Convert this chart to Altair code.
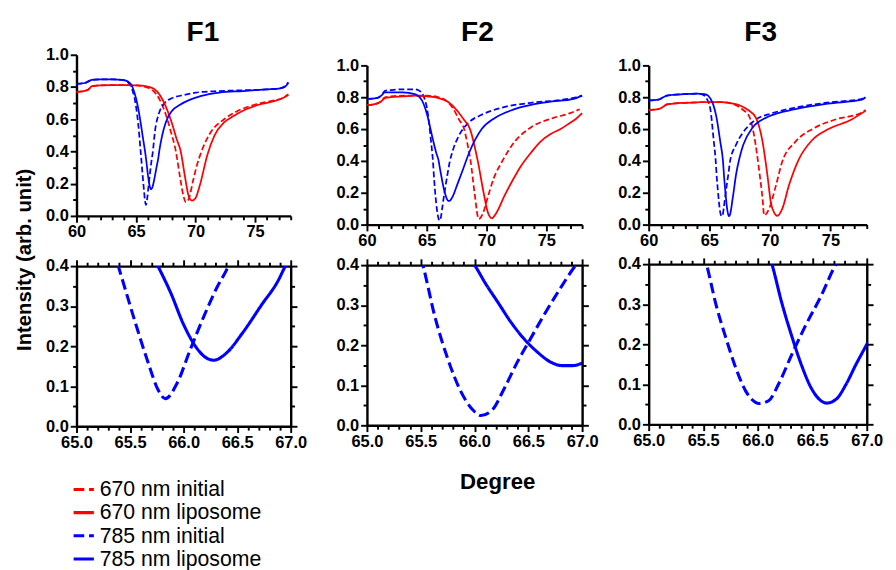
import altair as alt
import pandas as pd

FONT = "Liberation Sans"
SERIES = ["670 nm initial", "670 nm liposome", "785 nm initial", "785 nm liposome"]
COLORS = ["#ff0000", "#ff0000", "#0000ff", "#0000ff"]

# ---------------- F1 ----------------
f1_670_init_x = [60, 60.6, 61.0, 61.3, 62, 63, 64, 65, 65.8, 66.4, 67.0, 67.5, 67.9, 68.35, 68.7, 69.0, 69.2, 69.45, 69.8, 70.1, 70.5, 71.2, 72.4, 73.5, 74.5, 75.5, 76.5, 77.3, 77.8]
f1_670_init_y = [0.77, 0.775, 0.785, 0.805, 0.81, 0.812, 0.812, 0.81, 0.80, 0.78, 0.72, 0.63, 0.53, 0.40, 0.24, 0.12, 0.085, 0.11, 0.22, 0.31, 0.40, 0.51, 0.60, 0.65, 0.68, 0.70, 0.715, 0.73, 0.755]
f1_670_lipo_x = [60, 60.6, 61.0, 61.3, 62, 63, 64, 65, 65.8, 66.5, 67.0, 67.5, 68.0, 68.4, 68.76, 69.1, 69.4, 69.7, 70.0, 70.4, 71.0, 71.6, 72.4, 73.2, 74.2, 75.3, 76.5, 77.3, 77.8]
f1_670_lipo_y = [0.77, 0.775, 0.785, 0.805, 0.81, 0.812, 0.812, 0.81, 0.805, 0.79, 0.75, 0.68, 0.58, 0.48, 0.40, 0.25, 0.13, 0.095, 0.11, 0.20, 0.38, 0.50, 0.58, 0.62, 0.66, 0.69, 0.71, 0.73, 0.75]
f1_785_init_x = [60, 60.7, 61.0, 61.3, 62, 63, 63.8, 64.3, 64.7, 65.0, 65.2, 65.39, 65.55, 65.67, 65.76, 65.83, 65.94, 66.06, 66.19, 66.31, 66.40, 66.6, 66.9, 67.4, 68.0, 69.0, 70.0, 72.0, 74.0, 76.0, 77.0, 77.5, 77.8]
f1_785_init_y = [0.82, 0.825, 0.835, 0.845, 0.848, 0.848, 0.845, 0.83, 0.78, 0.68, 0.56, 0.40, 0.258, 0.158, 0.092, 0.069, 0.108, 0.19, 0.275, 0.346, 0.39, 0.53, 0.63, 0.70, 0.73, 0.75, 0.765, 0.775, 0.78, 0.785, 0.79, 0.805, 0.83]
f1_785_lipo_x = [60, 60.7, 61.0, 61.3, 62, 63, 63.8, 64.3, 64.7, 65.0, 65.3, 65.55, 65.76, 65.88, 66.0, 66.1, 66.19, 66.28, 66.40, 66.55, 66.73, 66.88, 66.95, 67.2, 67.5, 68.0, 68.7, 69.5, 70.5, 72.0, 74.0, 76.0, 77.0, 77.5, 77.8]
f1_785_lipo_y = [0.82, 0.825, 0.835, 0.845, 0.848, 0.848, 0.845, 0.835, 0.80, 0.73, 0.62, 0.50, 0.40, 0.333, 0.254, 0.204, 0.175, 0.165, 0.183, 0.233, 0.304, 0.3625, 0.40, 0.50, 0.58, 0.65, 0.69, 0.72, 0.745, 0.765, 0.775, 0.785, 0.79, 0.80, 0.825]

# ---------------- F2 ----------------
f2_670_init_x = [60, 60.8, 61.2, 61.5, 62, 63, 64, 65, 66, 66.6, 67.2, 67.7, 68.13, 68.4, 68.67, 69.0, 69.35, 69.7, 70.1, 70.6, 71.26, 72.35, 73.7, 75.6, 77.0, 77.8]
f2_670_init_y = [0.75, 0.76, 0.775, 0.80, 0.805, 0.81, 0.81, 0.81, 0.80, 0.78, 0.73, 0.66, 0.60, 0.51, 0.40, 0.20, 0.035, 0.07, 0.17, 0.29, 0.39, 0.52, 0.61, 0.67, 0.70, 0.725]
f2_670_lipo_x = [60, 60.8, 61.2, 61.5, 62, 63, 64, 65, 66, 66.8, 67.5, 68.1, 68.62, 69.27, 69.76, 70.1, 70.45, 70.8, 71.5, 72.2, 72.9, 73.7, 74.5, 75.4, 76.2, 77.0, 77.5, 78.0]
f2_670_lipo_y = [0.75, 0.76, 0.775, 0.795, 0.80, 0.805, 0.81, 0.805, 0.795, 0.77, 0.72, 0.66, 0.60, 0.40, 0.20, 0.08, 0.04, 0.07, 0.18, 0.28, 0.37, 0.45, 0.52, 0.57, 0.60, 0.64, 0.665, 0.70]
f2_785_init_x = [60, 60.8, 61.2, 61.5, 62, 63, 64, 64.4, 64.72, 65.13, 65.35, 65.52, 65.63, 65.75, 65.87, 65.99, 66.06, 66.16, 66.28, 66.40, 66.52, 66.64, 66.79, 66.93, 67.2, 67.7, 68.5, 69.6, 71.3, 73.7, 76.4, 77.5, 78.0]
f2_785_init_y = [0.79, 0.795, 0.81, 0.84, 0.845, 0.85, 0.85, 0.84, 0.81, 0.68, 0.53, 0.40, 0.273, 0.167, 0.086, 0.037, 0.0245, 0.037, 0.094, 0.159, 0.216, 0.273, 0.339, 0.396, 0.47, 0.56, 0.64, 0.69, 0.735, 0.765, 0.785, 0.80, 0.81]
f2_785_lipo_x = [60, 60.8, 61.2, 61.5, 62, 63, 64, 64.6, 65.0, 65.5, 65.8, 66.0, 66.10, 66.22, 66.34, 66.46, 66.58, 66.70, 66.82, 66.91, 67.0, 67.2, 67.5, 68.0, 68.54, 69.6, 70.7, 72.35, 75.1, 77.3, 78.0]
f2_785_lipo_y = [0.79, 0.795, 0.81, 0.83, 0.83, 0.83, 0.82, 0.78, 0.70, 0.54, 0.45, 0.40, 0.355, 0.306, 0.257, 0.216, 0.184, 0.159, 0.149, 0.149, 0.155, 0.18, 0.24, 0.34, 0.45, 0.60, 0.67, 0.725, 0.77, 0.79, 0.81]

# ---------------- F3 ----------------
f3_670_init_x = [60, 60.8, 61.2, 61.5, 62, 63, 64, 65, 66, 66.6, 67.2, 67.8, 68.3, 68.7, 69.1, 69.4, 69.53, 69.94, 70.5, 71.0, 72.1, 73.5, 75.4, 77.6, 77.9]
f3_670_init_y = [0.72, 0.725, 0.74, 0.755, 0.76, 0.765, 0.768, 0.77, 0.77, 0.765, 0.75, 0.72, 0.68, 0.56, 0.35, 0.16, 0.058, 0.10, 0.245, 0.39, 0.52, 0.60, 0.66, 0.705, 0.72]
f3_670_lipo_x = [60, 60.8, 61.2, 61.5, 62, 63, 64, 65, 66, 66.6, 67.5, 68.2, 68.85, 69.4, 69.8, 70.08, 70.35, 70.62, 71.03, 71.57, 72.39, 73.48, 74.84, 76.75, 77.7, 77.9]
f3_670_lipo_y = [0.72, 0.725, 0.74, 0.755, 0.76, 0.765, 0.768, 0.77, 0.77, 0.765, 0.75, 0.72, 0.67, 0.52, 0.31, 0.14, 0.075, 0.055, 0.10, 0.245, 0.41, 0.53, 0.60, 0.66, 0.705, 0.715]
f3_785_init_x = [60, 60.8, 61.2, 61.5, 62, 63, 64, 64.5, 64.8, 65.1, 65.35, 65.53, 65.62, 65.71, 65.80, 65.89, 65.98, 66.01, 66.10, 66.19, 66.31, 66.43, 66.58, 66.72, 67.2, 68.0, 68.85, 70.2, 72.1, 74.8, 77.6, 77.9]
f3_785_init_y = [0.78, 0.785, 0.80, 0.81, 0.815, 0.82, 0.822, 0.815, 0.79, 0.72, 0.54, 0.40, 0.296, 0.214, 0.14, 0.083, 0.055, 0.052, 0.059, 0.10, 0.173, 0.242, 0.32, 0.40, 0.50, 0.60, 0.66, 0.70, 0.735, 0.767, 0.79, 0.80]
f3_785_lipo_x = [60, 60.8, 61.2, 61.5, 62, 63, 64, 64.6, 64.9, 65.3, 65.58, 65.91, 66.13, 66.22, 66.31, 66.40, 66.49, 66.58, 66.63, 66.72, 66.81, 66.90, 67.0, 67.2, 67.5, 67.8, 68.58, 69.94, 72.1, 74.8, 77.6, 77.9]
f3_785_lipo_y = [0.78, 0.785, 0.80, 0.81, 0.815, 0.82, 0.822, 0.82, 0.81, 0.76, 0.68, 0.52, 0.40, 0.304, 0.222, 0.149, 0.091, 0.059, 0.053, 0.063, 0.10, 0.149, 0.20, 0.31, 0.42, 0.50, 0.61, 0.68, 0.725, 0.76, 0.785, 0.80]

# tick positions
top_x_ticks = [60, 61, 62, 63, 64, 65, 66, 67, 68, 69, 70, 71, 72, 73, 74, 75, 76, 77, 78]
top_y_ticks = [0.0, 0.1, 0.2, 0.3, 0.4, 0.5, 0.6, 0.7, 0.8, 0.9, 1.0]
bot_x_ticks = [65.0, 65.1, 65.2, 65.3, 65.4, 65.5, 65.6, 65.7, 65.8, 65.9, 66.0, 66.1, 66.2, 66.3, 66.4, 66.5, 66.6, 66.7, 66.8, 66.9, 67.0]
bot_y_ticks = [0.0, 0.05, 0.1, 0.15, 0.2, 0.25, 0.3, 0.35, 0.4]

rows = []
def add(panel, series, xs, ys):
    for xv, yv in zip(xs, ys):
        rows.append({"panel": panel, "series": series, "x": xv, "y": yv})

add("F1", SERIES[0], f1_670_init_x, f1_670_init_y)
add("F1", SERIES[1], f1_670_lipo_x, f1_670_lipo_y)
add("F1", SERIES[2], f1_785_init_x, f1_785_init_y)
add("F1", SERIES[3], f1_785_lipo_x, f1_785_lipo_y)
add("F2", SERIES[0], f2_670_init_x, f2_670_init_y)
add("F2", SERIES[1], f2_670_lipo_x, f2_670_lipo_y)
add("F2", SERIES[2], f2_785_init_x, f2_785_init_y)
add("F2", SERIES[3], f2_785_lipo_x, f2_785_lipo_y)
add("F3", SERIES[0], f3_670_init_x, f3_670_init_y)
add("F3", SERIES[1], f3_670_lipo_x, f3_670_lipo_y)
add("F3", SERIES[2], f3_785_init_x, f3_785_init_y)
add("F3", SERIES[3], f3_785_lipo_x, f3_785_lipo_y)
df = pd.DataFrame(rows)

legend = alt.Legend(title=None)
color = alt.Color("series:N", scale=alt.Scale(domain=SERIES, range=COLORS), legend=legend)
dash = alt.StrokeDash("series:N", scale=alt.Scale(domain=SERIES, range=[[11, 5], [1, 0], [11, 5], [1, 0]]), legend=legend)


def axis(orient, values, test, fmt, labels=True, **kw):
    opts = dict(orient=orient, values=values, format=fmt,
                tickSize={"condition": {"test": test, "value": 6.5}, "value": 4},
                labelOverlap=False, labelFlush=False, grid=False)
    if labels:
        opts["labelExpr"] = f"({test}) ? datum.label : ''"
    else:
        opts["labels"] = False
    opts.update(kw)
    return alt.Axis(**opts)

T_XTOP = "round(datum.value) % 5 == 0"
T_YTOP = "round(datum.value * 10) % 2 == 0"
T_XBOT = "round(datum.value * 10) % 5 == 0"
T_YBOT = "round(datum.value * 100) % 10 == 0"


def top_chart(panel, w, h, toff, tdx):
    base = alt.Chart(df).transform_filter(alt.datum.panel == panel)
    x = alt.X("x:Q", scale=alt.Scale(domain=[60, 78], nice=False, zero=False),
              axis=axis("bottom", top_x_ticks, T_XTOP, "d"), title=None)
    y = alt.Y("y:Q", scale=alt.Scale(domain=[0, 1], nice=False),
              axis=axis("left", top_y_ticks, T_YTOP, ".1f"), title=None)
    init = base.transform_filter(
        alt.FieldOneOfPredicate(field="series", oneOf=[SERIES[0], SERIES[2]])
    ).mark_line(strokeWidth=1.8, strokeDash=[6, 3], interpolate="monotone").encode(
        x=x, y=y, color=color)
    lipo = base.transform_filter(
        alt.FieldOneOfPredicate(field="series", oneOf=[SERIES[1], SERIES[3]])
    ).mark_line(strokeWidth=1.8, interpolate="monotone").encode(x=x, y=y, color=color)
    return alt.layer(init, lipo).properties(
        width=w, height=h,
        title=alt.TitleParams(panel, fontSize=29, font=FONT, fontWeight="bold",
                              offset=toff, dx=tdx, color="black"))


def bottom_chart(panel, w, xtitle=None, ytitle=None):
    base = alt.Chart(df).transform_filter(alt.datum.panel == panel)
    xs = alt.Scale(domain=[65, 67], nice=False, zero=False)
    ys = alt.Scale(domain=[0, 0.4], nice=False)
    xkw = {}
    if xtitle:
        xkw = dict(titleX=135, titleY=47, titleFontSize=23, titleBaseline="top")
    ykw = {}
    if ytitle:
        ykw = dict(titleX=-44, titleY=-7, titleFontSize=21, titleAngle=270,
                   titleBaseline="bottom", titleAlign="center")
    main = base.mark_line(strokeWidth=3.2, clip=True, interpolate="monotone").encode(
        x=alt.X("x:Q", scale=xs, axis=axis("bottom", bot_x_ticks, T_XBOT, ".1f", **xkw),
                title=xtitle if xtitle else None),
        y=alt.Y("y:Q", scale=ys, axis=axis("left", bot_y_ticks, T_YBOT, ".1f", **ykw),
                title=ytitle if ytitle else None),
        color=color, strokeDash=dash)
    mirror = base.mark_line(opacity=0, clip=True).encode(
        x=alt.X("x:Q", scale=xs, axis=axis("top", bot_x_ticks, T_XBOT, ".1f", labels=False), title=None),
        y=alt.Y("y:Q", scale=ys, axis=axis("right", bot_y_ticks, T_YBOT, ".1f", labels=False), title=None),
        detail="series:N")
    return alt.layer(main, mirror).resolve_axis(x="independent", y="independent").properties(
        width=w, height=166)


spacer_df = pd.DataFrame({"v": [0]})

def spacer(w):
    return alt.Chart(spacer_df).mark_point(opacity=0, size=1, strokeWidth=0).encode(
        x=alt.X("v:Q", axis=None), y=alt.Y("v:Q", axis=None)).properties(width=w, height=1)


def column(panel, w, h, gap, toff, tdx, **kw):
    inner = alt.vconcat(top_chart(panel, w, h, toff, tdx), bottom_chart(panel, w, **kw),
                        spacing=gap, bounds="flush")
    return alt.vconcat(spacer(w), inner, spacing=0)


col1 = column("F1", 222, 167, 52, -1, 20, ytitle="Intensity (arb. unit)")
col2 = column("F2", 223, 165, 42, 10, 3, xtitle="Degree")
col3 = column("F3", 226, 165, 41, 10, 3)

chart = alt.hconcat(col1, alt.hconcat(col2, col3, spacing=19), spacing=29).configure_axis(
    domainColor="black", domainWidth=2.5, tickColor="black", tickWidth=2,
    labelFont=FONT, labelFontSize=17, labelFontWeight="bold", labelColor="black",
    labelPadding=2, titleFont=FONT, titleFontWeight="bold", titleColor="black",
).configure_view(strokeWidth=0).configure_legend(
    orient="none", legendX=-5, legendY=476, padding=0,
    labelFont=FONT, labelFontSize=22, labelColor="black", labelOffset=4, labelLimit=400,
    symbolType="stroke", symbolSize=441, symbolStrokeWidth=3.2, rowPadding=-3.8,
).properties(padding={"left": 5, "top": 0, "right": 5, "bottom": 5})

chart.save("out.html", embed_options={"renderer": "svg", "actions": False})
